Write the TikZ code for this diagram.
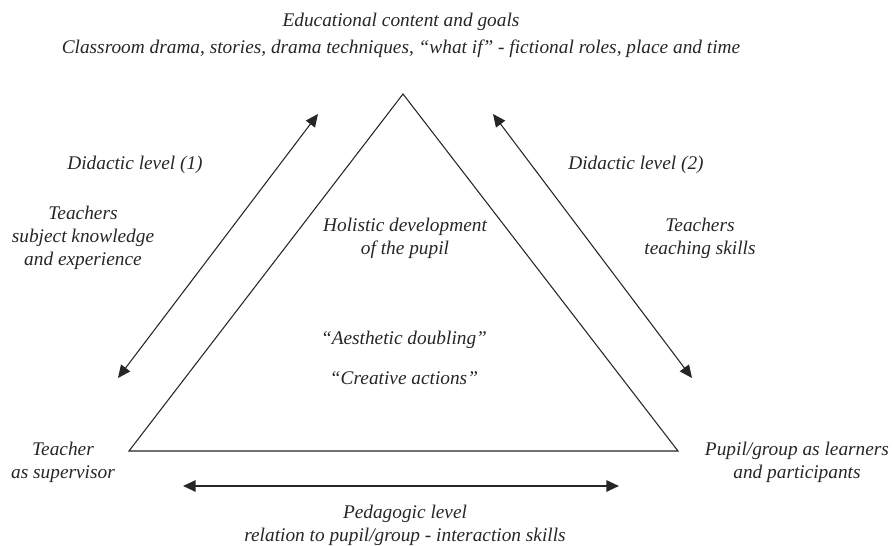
\documentclass[tikz,border=0pt]{standalone}
\usepackage{fontspec}
\setmainfont{Liberation Serif}
\usetikzlibrary{arrows.meta}
\begin{document}
\begin{tikzpicture}[x=0.75pt,y=-0.75pt,
  lbl/.style={font=\fontsize{14.5}{17.25}\selectfont\itshape, align=center, inner sep=0pt, text=black!85},
  tri/.style={draw=black!85, line width=0.8pt, line join=miter},
  dbl/.style={draw=black!85, line width=0.8pt, {Triangle[length=9.5pt,width=8.5pt]}-{Triangle[length=9.5pt,width=8.5pt]}},
  thickdbl/.style={dbl, line width=1.4pt}]
\useasboundingbox (0,0) rectangle (893,546);
% triangle
\coordinate (A) at (403,94);
\coordinate (B) at (129,451);
\coordinate (C) at (678,451);
\draw[tri] (A) -- (B) -- (C) -- cycle;
% arrows
\coordinate (l1) at (118,378);
\coordinate (l2) at (318,114);
\coordinate (r1) at (493,114);
\coordinate (r2) at (692,378);
\coordinate (b1) at (183,486);
\coordinate (b2) at (619,486);
\draw[dbl] (l1) -- (l2);
\draw[dbl] (r1) -- (r2);
\draw[thickdbl] (b1) -- (b2);
% texts
\node[lbl] (title) at (401,22) {Educational content and goals};
\node[lbl] (sub) at (401,49) {Classroom drama, stories, drama techniques, “what if” - fictional roles, place and time};
\node[lbl] (did1) at (135,165) {Didactic level (1)};
\node[lbl] (teachL) at (83,238) {Teachers\\subject knowledge\\and experience};
\node[lbl] (hol) at (405,238) {Holistic development\\of the pupil};
\node[lbl] (did2) at (636,165) {Didactic level (2)};
\node[lbl] (teachR) at (700,238) {Teachers\\teaching skills};
\node[lbl] (aes) at (404,340) {“Aesthetic doubling”};
\node[lbl] (cre) at (404,378) {“Creative actions”};
\node[lbl] (teacher) at (63,462) {Teacher\\as supervisor};
\node[lbl] (pupil) at (797,462) {Pupil/group as learners\\and participants};
\node[lbl] (ped) at (405,525) {Pedagogic level\\relation to pupil/group - interaction skills};
\end{tikzpicture}
\end{document}
